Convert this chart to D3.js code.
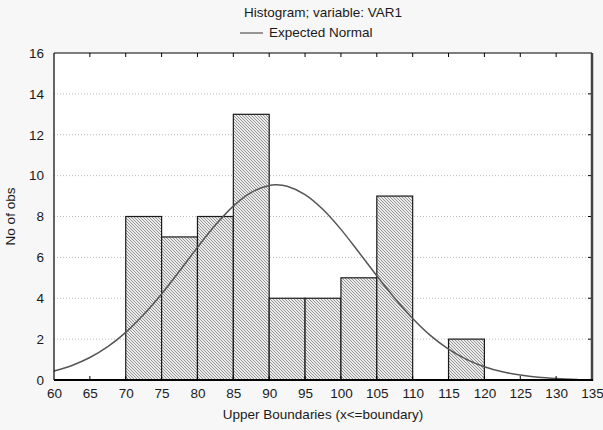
<!DOCTYPE html>
<html>
<head>
<meta charset="utf-8">
<script src="https://cdn.jsdelivr.net/npm/d3@7"></script>
<style>
  body { margin: 0; background: #f7f7f7; }
  svg { font-family: "Liberation Sans", Arial, sans-serif; }
</style>
</head>
<body>
<script>
// histogram bins (upper boundaries) and counts
var binStarts = [70, 75, 80, 85, 90, 95, 100, 105, 110, 115];
var binCounts = [8, 7, 8, 13, 4, 4, 5, 9, 0, 2];
var binWidth = 5;

// expected normal curve
var curveX = [60, 62.5, 65, 67.5, 70, 72.5, 75, 77.5, 80, 82.5, 85, 87.5, 90, 91, 92.5, 95, 97.5, 100,
              102.5, 105, 107.5, 110, 112.5, 115, 117.5, 120, 122.5, 125, 127.5, 130, 133];
var curveY = [0.44, 0.71, 1.1, 1.63, 2.33, 3.2, 4.21, 5.33, 6.49, 7.58, 8.51, 9.18, 9.52, 9.55, 9.48, 9.07, 8.34, 7.37,
              6.25, 5.1, 4.0, 3.01, 2.17, 1.51, 1.01, 0.65, 0.4, 0.24, 0.13, 0.07, 0.03];

var xTicks = d3.range(60, 136, 5);
var yTicks = d3.range(0, 17, 2);

var W = 603, H = 430;
var margin = { top: 53, right: 11, bottom: 50, left: 54 };
var width = W - margin.left - margin.right,
    height = H - margin.top - margin.bottom;

var svg = d3.select("body").append("svg")
    .attr("width", W)
    .attr("height", H);

var defs = svg.append("defs");
var pat = defs.append("pattern")
    .attr("id", "hatch")
    .attr("patternUnits", "userSpaceOnUse")
    .attr("width", 3)
    .attr("height", 3);
pat.append("rect").attr("width", 3).attr("height", 3).attr("fill", "#ececec");
pat.append("path")
    .attr("d", "M0,0 L3,3 M-1,2 L1,4 M2,-1 L4,1")
    .attr("stroke", "#8a8a8a")
    .attr("stroke-width", 0.9);

var x = d3.scaleLinear().domain([60, 135]).range([0, width]);
var y = d3.scaleLinear().domain([0, 16]).range([height, 0]);

var g = svg.append("g")
    .attr("transform", "translate(" + margin.left + "," + margin.top + ")");

g.append("rect")
    .attr("width", width)
    .attr("height", height)
    .attr("fill", "#fff");

// dotted grid
g.selectAll(".grid")
    .data(yTicks.filter(function (d) { return d > 0 && d < 16; }))
  .enter().append("line")
    .attr("class", "grid")
    .attr("x1", 0).attr("x2", width)
    .attr("y1", function (d) { return y(d); })
    .attr("y2", function (d) { return y(d); })
    .attr("stroke", "#bdbdbd")
    .attr("stroke-dasharray", "1,2");

// bars
g.selectAll(".bar")
    .data(binStarts.map(function (s, i) { return { x0: s, n: binCounts[i] }; })
      .filter(function (d) { return d.n > 0; }))
  .enter().append("rect")
    .attr("class", "bar")
    .attr("x", function (d) { return x(d.x0); })
    .attr("width", function (d) { return x(d.x0 + binWidth) - x(d.x0); })
    .attr("y", function (d) { return y(d.n); })
    .attr("height", function (d) { return y(0) - y(d.n); })
    .attr("fill", "url(#hatch)")
    .attr("stroke", "#1a1a1a")
    .attr("stroke-width", 1.2);

// normal curve
var line = d3.line()
    .x(function (d) { return x(d[0]); })
    .y(function (d) { return y(d[1]); })
    .curve(d3.curveCatmullRom);

g.append("path")
    .datum(curveX.map(function (v, i) { return [v, curveY[i]]; }))
    .attr("d", line)
    .attr("fill", "none")
    .attr("stroke", "#555")
    .attr("stroke-width", 1.5);

// axes
var xAxis = d3.axisBottom(x).tickValues(xTicks).tickSize(0).tickPadding(8);
var yAxis = d3.axisLeft(y).tickValues(yTicks).tickSize(0).tickPadding(10);

g.append("g")
    .attr("transform", "translate(0," + height + ")")
    .call(xAxis)
    .call(function (s) { s.select(".domain").remove(); });

g.append("g")
    .call(yAxis)
    .call(function (s) { s.select(".domain").remove(); });

g.selectAll(".tick text")
    .attr("fill", "#1a1a1a")
    .style("font-size", "13.5px");

// inner tick marks on top, bottom and right
g.selectAll(".ttick")
    .data(xTicks.slice(1, -1))
  .enter().append("line")
    .attr("x1", function (d) { return x(d); })
    .attr("x2", function (d) { return x(d); })
    .attr("y1", 0).attr("y2", 4)
    .attr("stroke", "#000");

g.selectAll(".btick")
    .data(xTicks.slice(1, -1))
  .enter().append("line")
    .attr("x1", function (d) { return x(d); })
    .attr("x2", function (d) { return x(d); })
    .attr("y1", height).attr("y2", height - 4)
    .attr("stroke", "#000");

g.selectAll(".rtick")
    .data(yTicks.slice(1, -1))
  .enter().append("line")
    .attr("x1", width).attr("x2", width - 4)
    .attr("y1", function (d) { return y(d); })
    .attr("y2", function (d) { return y(d); })
    .attr("stroke", "#000");

// frame
g.append("line").attr("x1", 0).attr("x2", width).attr("y1", 0).attr("y2", 0)
    .attr("stroke", "#000").attr("stroke-width", 1.2);
g.append("line").attr("x1", 0).attr("x2", 0).attr("y1", 0).attr("y2", height)
    .attr("stroke", "#000").attr("stroke-width", 1.2);
g.append("line").attr("x1", width).attr("x2", width).attr("y1", 0).attr("y2", height + 1)
    .attr("stroke", "#444").attr("stroke-width", 2.5);
g.append("line").attr("x1", 0).attr("x2", width + 1).attr("y1", height).attr("y2", height)
    .attr("stroke", "#000").attr("stroke-width", 2);

// titles
svg.append("text")
    .attr("x", margin.left + width / 2)
    .attr("y", 17)
    .attr("text-anchor", "middle")
    .style("font-size", "13.5px")
    .attr("fill", "#1a1a1a")
    .text("Histogram; variable: VAR1");

svg.append("line")
    .attr("x1", 240).attr("x2", 263)
    .attr("y1", 33).attr("y2", 33)
    .attr("stroke", "#555").attr("stroke-width", 1.2);

svg.append("text")
    .attr("x", 269)
    .attr("y", 37)
    .style("font-size", "13.5px")
    .attr("fill", "#1a1a1a")
    .text("Expected Normal");

svg.append("text")
    .attr("x", margin.left + width / 2)
    .attr("y", 419)
    .attr("text-anchor", "middle")
    .style("font-size", "13.5px")
    .attr("fill", "#1a1a1a")
    .text("Upper Boundaries (x<=boundary)");

svg.append("text")
    .attr("transform", "translate(15," + (margin.top + height / 2) + ") rotate(-90)")
    .attr("text-anchor", "middle")
    .style("font-size", "13.5px")
    .attr("fill", "#1a1a1a")
    .text("No of obs");
</script>
</body>
</html>
